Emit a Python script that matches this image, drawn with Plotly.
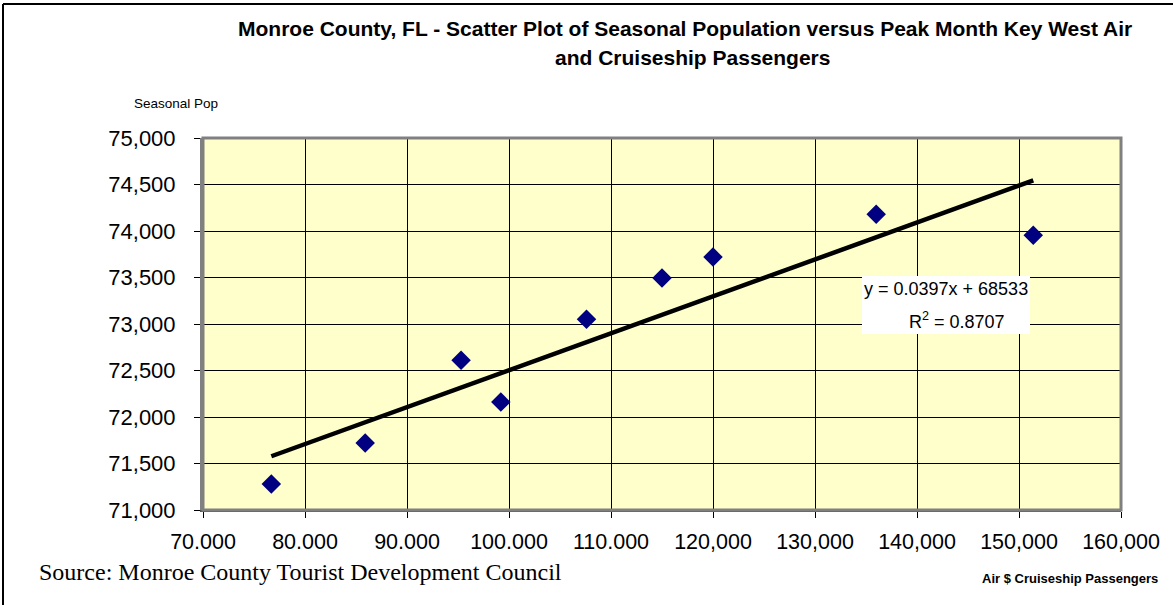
import plotly.graph_objects as go

# Peak month Key West air + cruiseship passengers vs seasonal population
passengers = [76700, 85900, 95300, 99200, 107600, 115000, 120000, 136000, 151400]
seasonal_pop = [71280, 71720, 72610, 72160, 73050, 73495, 73720, 74180, 73955]

# Linear trendline as reported on the chart
slope = 0.0397
intercept = 68533
r_squared = 0.8707

x_ticks = [70000, 80000, 90000, 100000, 110000, 120000, 130000, 140000, 150000, 160000]
x_tick_text = ["70.000", "80.000", "90.000", "100.000", "110.000",
               "120,000", "130,000", "140,000", "150,000", "160,000"]
y_ticks = [71000, 71500, 72000, 72500, 73000, 73500, 74000, 74500, 75000]
y_tick_text = ["71,000", "71,500", "72,000", "72,500", "73,000",
               "73,500", "74,000", "74,500", "75,000"]

W, H = 1173, 605
L, R, T, B = 203, 1121, 138, 510


def px(xp):
    return (xp - L) / (R - L)


def py(yp):
    return (B - yp) / (B - T)


trend_x = [min(passengers), max(passengers)]
trend_y = [slope * v + intercept for v in trend_x]

fig = go.Figure()
fig.add_trace(go.Scatter(
    x=trend_x, y=trend_y, mode="lines",
    line=dict(color="black", width=4.5), hoverinfo="skip", showlegend=False))
fig.add_trace(go.Scatter(
    x=passengers, y=seasonal_pop, mode="markers",
    marker=dict(symbol="diamond", size=15, color="#000080"),
    showlegend=False))

font = "Liberation Sans, Arial, sans-serif"

fig.update_layout(
    width=W, height=H,
    margin=dict(l=L, r=W - R, t=T, b=H - B),
    paper_bgcolor="white",
    plot_bgcolor="#FFFFCC",
    font=dict(family=font, color="black"),
    xaxis=dict(
        range=[70000, 160000], tickvals=x_ticks, ticktext=x_tick_text,
        showgrid=True, gridcolor="black", gridwidth=1,
        ticks="outside", ticklen=6, tickcolor="black",
        tickfont=dict(size=21.5, family=font), ticklabelstandoff=5,
        showline=True, linecolor="#555555", linewidth=2, zeroline=False,
        fixedrange=True),
    yaxis=dict(
        range=[71000, 75000], tickvals=y_ticks, ticktext=y_tick_text,
        showgrid=True, gridcolor="black", gridwidth=1,
        ticks="outside", ticklen=6, tickcolor="black",
        tickfont=dict(size=22, family=font), ticklabelstandoff=14,
        showline=True, linecolor="#808080", linewidth=3, zeroline=False,
        fixedrange=True),
    shapes=[
        # plot area frame
        dict(type="rect", xref="paper", yref="paper", x0=0, x1=1, y0=0, y1=1,
             line=dict(color="#808080", width=3)),
        # outer chart border
        dict(type="line", xref="paper", yref="paper",
             x0=px(3), x1=px(3), y0=py(4), y1=py(620),
             line=dict(color="black", width=2)),
        dict(type="line", xref="paper", yref="paper",
             x0=px(3), x1=px(1190), y0=py(4), y1=py(4),
             line=dict(color="black", width=2)),
        # equation box background
        dict(type="rect", xref="paper", yref="paper",
             x0=px(862), x1=px(1030), y0=py(334), y1=py(276),
             fillcolor="white", line=dict(width=0), layer="above"),
    ],
    annotations=[
        dict(text="<b>Monroe County, FL - Scatter Plot of Seasonal Population versus Peak Month Key West Air</b>",
             xref="paper", yref="paper", x=px(685), y=py(28),
             xanchor="center", yanchor="middle", showarrow=False,
             font=dict(size=21, family=font)),
        dict(text="<b>and Cruiseship Passengers</b>",
             xref="paper", yref="paper", x=px(692), y=py(58),
             xanchor="center", yanchor="middle", showarrow=False,
             font=dict(size=21, family=font)),
        dict(text="Seasonal Pop", xref="paper", yref="paper",
             x=px(132), y=py(103), xanchor="left", yanchor="middle",
             showarrow=False, font=dict(size=13.5, family=font)),
        dict(text="<b>Air $ Cruiseship Passengers</b>", xref="paper", yref="paper",
             x=px(1160), y=py(578), xanchor="right", yanchor="middle",
             showarrow=False, font=dict(size=13, family=font)),
        dict(text="Source: Monroe County Tourist Development Council",
             xref="paper", yref="paper", x=px(37), y=py(572),
             xanchor="left", yanchor="middle", showarrow=False,
             font=dict(size=24, family="Liberation Serif, Times New Roman, serif")),
        dict(text=f"y = {slope}x + {intercept}",
             xref="paper", yref="paper", x=px(946), y=py(289),
             xanchor="center", yanchor="middle", showarrow=False,
             font=dict(size=18, family=font)),
        dict(text=f"R<sup>2</sup> = {r_squared}",
             xref="paper", yref="paper", x=px(957), y=py(320),
             xanchor="center", yanchor="middle", showarrow=False,
             font=dict(size=18, family=font)),
    ],
)

fig.write_html("out.html")
